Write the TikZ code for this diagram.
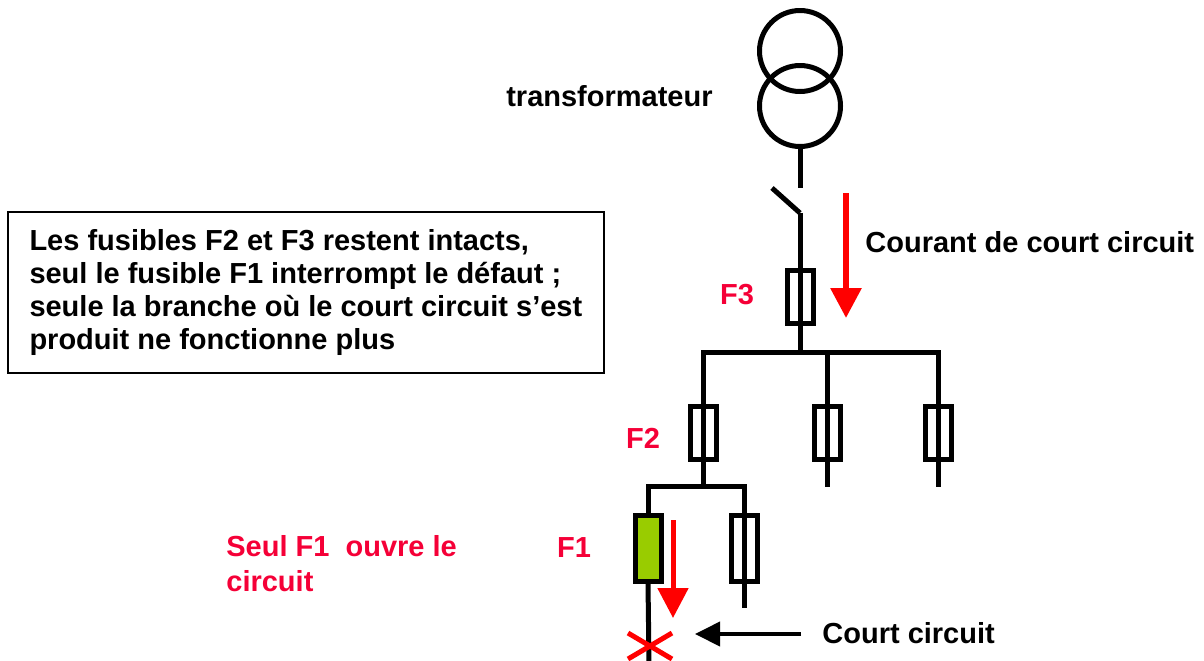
\documentclass[tikz,border=0pt]{standalone}
\usepackage{fontspec}
\setmainfont{Liberation Sans}
\usetikzlibrary{arrows.meta}
\definecolor{tagred}{RGB}{245,0,55}
\definecolor{blowngreen}{RGB}{153,204,0}

\begin{document}
\begin{tikzpicture}[x=0.5pt, y=-0.5pt,
		wire/.style={line width=2.5pt},
		winding/.style={circle, draw, line width=2.5pt, minimum size=40.5pt, inner sep=0pt},
		fuse/.style={rectangle, draw, line width=2.5pt, minimum width=13pt, minimum height=26.5pt, inner sep=0pt},
		longfuse/.style={fuse, minimum height=33pt},
		txt/.style={font=\bfseries\fontsize{14.5}{17.5}\selectfont, inner sep=0pt},
		redtxt/.style={txt, text=tagred},
		faultflow/.style={draw=red, line width=3pt, -{Triangle[width=15pt, length=15pt]}}]
		\useasboundingbox (0, 0) rectangle (1204, 660);
		\node[winding] (trTop) at (800, 51) {};
		\node[winding] (trBot) at (800, 106) {};
		\coordinate (swTop) at (800, 188);
		\coordinate (swPivot) at (800, 213);
		\coordinate (swBlade) at (772, 188);
		\node[fuse] (F3) at (800, 297) {};
		\coordinate (busMid) at (800, 352);
		\coordinate (busL) at (703, 352);
		\coordinate (busR) at (938, 352);
		\coordinate (busB) at (827, 352);
		\node[fuse] (F2) at (703, 433) {};
		\node[fuse] (Fb) at (827, 433) {};
		\node[fuse] (Fc) at (938, 433) {};
		\coordinate (Fbend) at (827, 487);
		\coordinate (Fcend) at (938, 487);
		\coordinate (subMid) at (703, 486);
		\coordinate (subL) at (648, 486);
		\coordinate (subR) at (744, 486);
		\node[longfuse, fill=blowngreen] (F1) at (648, 548) {};
		\node[longfuse] (Fe) at (744, 548) {};
		\coordinate (Feend) at (744, 608);
		\coordinate (wireEnd) at (649, 662);
		\coordinate (fault) at (650, 646);
		\coordinate (iTop) at (846, 193);
		\coordinate (iBot) at (846, 318);
		\coordinate (fTop) at (673, 520);
		\coordinate (fBot) at (673, 618);
		\coordinate (ccFrom) at (801, 634);
		\coordinate (ccTo) at (695, 634);
		\node[txt, anchor=base east] (trName) at (713, 106) {transformateur};
		\node[txt, anchor=base west] (icName) at (865, 252) {Courant de court circuit};
		\node[txt, anchor=base west] (ccName) at (822, 643) {Court circuit};
		\node[redtxt, anchor=base] (F3name) at (737, 304) {F3};
		\node[redtxt, anchor=base] (F2name) at (643, 448) {F2};
		\node[redtxt, anchor=base] (F1name) at (574, 557) {F1};
		\node[redtxt, anchor=north west, align=left] (opens) at (226, 535) {Seul F1~ ouvre le\\circuit};
		\node[draw, line width=1pt, anchor=west, align=left, inner xsep=11pt, minimum height=80.5pt,
			font=\bfseries\fontsize{14.5}{16.5}\selectfont] (note) at (6.5, 292.5)
			{Les fusibles F2 et F3 restent intacts,\\
			seul le fusible F1 interrompt le défaut ;\\
			seule la branche où le court circuit s’est\\
			produit ne fonctionne plus};
		\draw[wire] (trBot) -- (swTop);
		\draw[wire] (swBlade) -- (swPivot);
		\draw[wire] (swPivot) -- (busMid);
		\draw[wire] (subMid) -- (busL) -- (busR) -- (Fcend);
		\draw[wire] (busB) -- (Fbend);
		\draw[wire] (F1.north) -- (subL) -- (subR) -- (Feend);
		\draw[wire] (F1.south) -- (wireEnd);
		\draw[red, line width=2.5pt] ([shift={(-22,-13)}]fault) -- ([shift={(22,13)}]fault);
		\draw[red, line width=2.5pt] ([shift={(-22,13)}]fault) -- ([shift={(22,-13)}]fault);
		\draw[faultflow] (iTop) -- (iBot);
		\draw[faultflow, line width=2.5pt] (fTop) -- (fBot);
		\draw[line width=2pt, -{Triangle[width=12pt, length=12.5pt]}] (ccFrom) -- (ccTo);
\end{tikzpicture}
\end{document}
